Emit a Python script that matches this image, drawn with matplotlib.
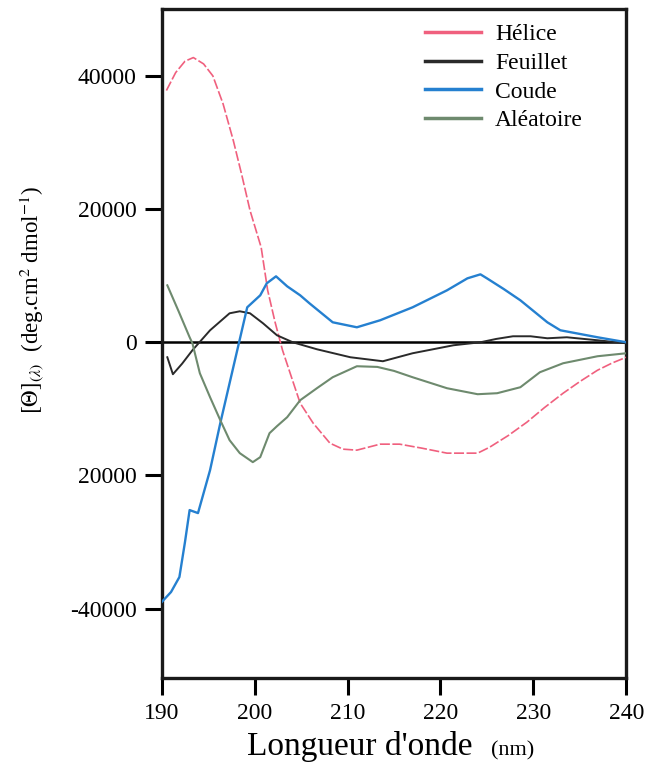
import matplotlib
matplotlib.use("Agg")
import matplotlib.pyplot as plt

plt.rcParams['font.family'] = ['Liberation Serif', 'DejaVu Serif']
plt.rcParams['mathtext.fontset'] = 'stix'

# Data (wavelength nm, molar ellipticity)
helice_x = [190.5, 191.5, 192.5, 193.4, 194.5, 195.5, 196.6, 197.7, 198.6, 199.5, 200.7, 201.4, 202.2, 203.0, 204.0, 204.9, 206.3, 208.1, 209.5, 211.0, 213.5, 215.6, 218.0, 220.7, 224.0, 225.3, 227.3, 229.3, 231.2, 233.2, 235.0, 236.9, 238.5, 240.0]
helice_y = [37800, 40500, 42200, 42750, 41800, 40000, 35800, 30300, 25200, 19800, 14250, 7800, 3000, -1200, -5400, -9150, -12150, -15150, -16050, -16200, -15300, -15300, -15900, -16650, -16650, -15750, -14000, -12000, -9800, -7650, -5900, -4200, -3100, -2250]

feuillet_x = [190.6, 191.2, 192.2, 193.3, 195.2, 197.3, 198.4, 199.5, 200.9, 202.4, 204.1, 206.7, 210.3, 213.8, 217.0, 221.4, 224.3, 226.0, 227.8, 229.7, 231.5, 233.6, 236.9, 240.0]
feuillet_y = [-2250, -4800, -3200, -1200, 1800, 4350, 4650, 4350, 2850, 1050, 0, -1050, -2250, -2850, -1650, -450, 0, 500, 900, 900, 600, 750, 300, -150]

coude_x = [190.0, 191.0, 191.9, 192.5, 193.0, 193.9, 195.2, 196.3, 197.3, 198.3, 199.2, 200.6, 201.3, 202.3, 203.5, 204.9, 205.9, 208.4, 211.0, 213.5, 217.0, 220.7, 222.9, 224.3, 225.0, 226.8, 228.6, 231.5, 232.9, 236.9, 240.0]
coude_y = [-39000, -37500, -35250, -30000, -25200, -25650, -19200, -12150, -6150, -150, 5250, 7050, 8850, 9900, 8400, 7050, 5850, 3000, 2250, 3300, 5250, 7800, 9600, 10200, 9600, 8000, 6300, 3000, 1800, 750, 0]

aleatoire_x = [190.6, 191.8, 193.0, 193.3, 194.1, 195.2, 196.3, 197.3, 198.4, 199.8, 200.6, 201.6, 202.4, 203.5, 204.9, 206.7, 208.4, 211.0, 213.2, 215.0, 217.0, 220.7, 224.0, 226.1, 228.6, 230.7, 233.2, 236.9, 240.0]
aleatoire_y = [8550, 4700, 750, -150, -4650, -8250, -11700, -14700, -16650, -18000, -17250, -13650, -12600, -11250, -8700, -6900, -5250, -3600, -3700, -4300, -5250, -6900, -7800, -7650, -6750, -4500, -3150, -2100, -1650]

x_ticks = [190, 200, 210, 220, 230, 240]
y_ticks = [-40000, -20000, 0, 20000, 40000]
y_tick_labels = ['-40000', '20000', '0', '20000', '40000']

fig = plt.figure(figsize=(6.47, 7.73), dpi=100)
ax = fig.add_axes([0.250, 0.123, 0.718, 0.865])

ax.axhline(0, color='black', lw=1.8, zorder=1)
ax.plot(helice_x, helice_y, color='#f0607e', lw=1.2, dashes=(6, 1.5), label='Hélice', zorder=3)
ax.plot(feuillet_x, feuillet_y, color='#2a2a2a', lw=1.4, label='Feuillet', zorder=3)
ax.plot(coude_x, coude_y, color='#2580d0', lw=1.7, label='Coude', zorder=3)
ax.plot(aleatoire_x, aleatoire_y, color='#6e8a6e', lw=1.5, label='Aléatoire', zorder=3)

ax.set_xlim(190, 240)
ax.set_ylim(-50400, 50000)
ax.set_xticks(x_ticks)
ax.set_yticks(y_ticks)
ax.set_yticklabels(y_tick_labels)
ax.tick_params(axis='both', direction='out', length=12, width=2.2, labelsize=17, color='black')
ax.tick_params(axis='x', pad=6)
ax.tick_params(axis='y', pad=6)
for s in ax.spines.values():
    s.set_linewidth(2.4)
    s.set_color('#1a1a1a')

ax.set_ylabel(r'$[\Theta]_{(\lambda)}$  (deg.cm$^{2}$ dmol$^{-1}$)', fontsize=16.5)
ax.yaxis.set_label_coords(-0.25, 0.565)

fig.text(0.556, 0.023, "Longueur d'onde", fontsize=24, ha='center', va='baseline')
fig.text(0.793, 0.023, "(nm)", fontsize=16, ha='center', va='baseline')

leg = ax.legend(loc='upper left', bbox_to_anchor=(0.532, 1.003), frameon=False,
                fontsize=17, handlelength=2.35, handletextpad=0.6, labelspacing=0.3,
                borderpad=0.2)
for line in leg.get_lines():
    line.set_linewidth(2.5)
    line.set_linestyle('-')

fig.savefig('out.png', dpi=100, facecolor='white')
